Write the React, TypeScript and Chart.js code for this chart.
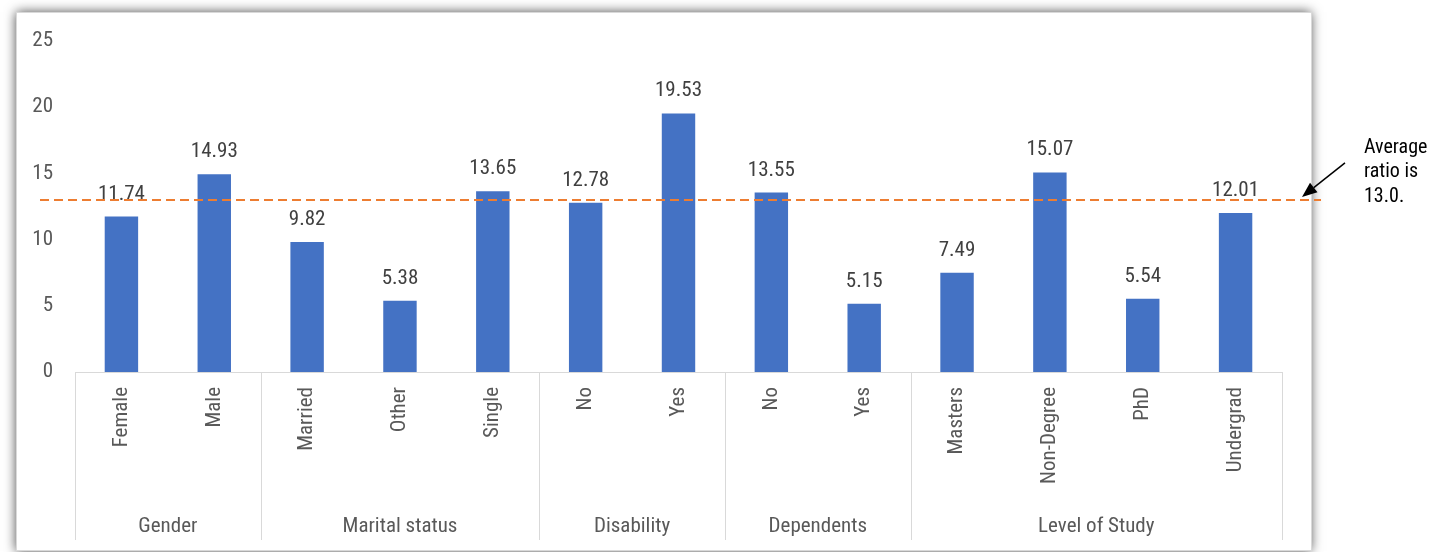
import React, { useEffect, useRef } from "react";
import { Chart, registerables } from "chart.js";

Chart.register(...registerables);

const categories = ["Female", "Male", "Married", "Other", "Single", "No", "Yes", "No", "Yes", "Masters", "Non-Degree", "PhD", "Undergrad"];
const values = [11.74, 14.93, 9.82, 5.38, 13.65, 12.78, 19.53, 13.55, 5.15, 7.49, 15.07, 5.54, 12.01];
const groupNames = ["Gender", "Marital status", "Disability", "Dependents", "Level of Study"];
const groupSizes = [2, 3, 2, 2, 4];
const yMax = 25;
const yStep = 5;
const averageRatio = 13.0;
const annotationLines = ["Average", "ratio is", "13.0."];

const FAMILY = '"Roboto Condensed", Roboto, "DejaVu Sans Condensed", sans-serif';
const STRETCH = "condensed";
const fontStr = (size: number) => `${STRETCH} ${size}px ${FAMILY}`;
const TEXT = "#595959";
const BAR = "#4472C4";
const LINE_GRAY = "#d9d9d9";
const ORANGE = "#ED7D31";

const decorPlugin = {
  id: "decor",
  beforeDraw(chart: any) {
    const ctx = chart.ctx;
    ctx.save();
    ctx.shadowColor = "rgba(0,0,0,0.7)";
    ctx.shadowBlur = 11;
    ctx.fillStyle = "#ffffff";
    ctx.fillRect(16, 12, 1295, 539);
    ctx.restore();
    ctx.save();
    ctx.strokeStyle = LINE_GRAY;
    ctx.lineWidth = 1;
    ctx.strokeRect(16.5, 12.5, 1295, 538);
    ctx.restore();
  },
  afterDatasetsDraw(chart: any) {
    const ctx = chart.ctx;
    const xs = chart.scales.x;
    const ys = chart.scales.y;
    const area = chart.chartArea;
    const meta = chart.getDatasetMeta(0);

    // data labels
    ctx.save();
    ctx.font = fontStr(21);
    ctx.fillStyle = "#404040";
    ctx.textAlign = "center";
    ctx.textBaseline = "alphabetic";
    meta.data.forEach((bar: any, i: number) => {
      ctx.fillText(values[i].toFixed(2), bar.x, bar.y - 17);
    });
    ctx.restore();

    // group dividers and labels
    const bottomY = area.bottom + 168;
    const boundaries: number[] = [area.left];
    let idx = 0;
    groupSizes.forEach((n, g) => {
      idx += n;
      if (g < groupSizes.length - 1) {
        boundaries.push((xs.getPixelForValue(idx - 1) + xs.getPixelForValue(idx)) / 2);
      } else {
        boundaries.push(area.right);
      }
    });
    ctx.save();
    ctx.strokeStyle = LINE_GRAY;
    ctx.lineWidth = 1;
    boundaries.forEach((bx) => {
      const px = Math.round(bx) + 0.5;
      ctx.beginPath();
      ctx.moveTo(px, area.bottom);
      ctx.lineTo(px, bottomY);
      ctx.stroke();
    });
    ctx.font = fontStr(21);
    ctx.fillStyle = TEXT;
    ctx.textAlign = "center";
    ctx.textBaseline = "alphabetic";
    groupNames.forEach((name, g) => {
      ctx.fillText(name, (boundaries[g] + boundaries[g + 1]) / 2, area.bottom + 160);
    });
    ctx.restore();

    // average line
    const ay = ys.getPixelForValue(averageRatio);
    ctx.save();
    ctx.strokeStyle = ORANGE;
    ctx.lineWidth = 2;
    ctx.setLineDash([9, 5]);
    ctx.beginPath();
    ctx.moveTo(area.left - 35, ay);
    ctx.lineTo(area.right + 39, ay);
    ctx.stroke();
    ctx.restore();

    // arrow
    const tipX = area.right + 20;
    const tipY = ay - 3;
    const tailX = area.right + 63;
    const tailY = ay - 37;
    const ang = Math.atan2(tipY - tailY, tipX - tailX);
    const headLen = 15;
    const headW = 6;
    const baseX = tipX - headLen * Math.cos(ang);
    const baseY = tipY - headLen * Math.sin(ang);
    ctx.save();
    ctx.strokeStyle = "#000000";
    ctx.fillStyle = "#000000";
    ctx.lineWidth = 1.5;
    ctx.beginPath();
    ctx.moveTo(tailX, tailY);
    ctx.lineTo(baseX, baseY);
    ctx.stroke();
    ctx.beginPath();
    ctx.moveTo(tipX, tipY);
    ctx.lineTo(baseX + headW * Math.sin(ang), baseY - headW * Math.cos(ang));
    ctx.lineTo(baseX - headW * Math.sin(ang), baseY + headW * Math.cos(ang));
    ctx.closePath();
    ctx.fill();
    ctx.restore();

    // annotation text
    ctx.save();
    ctx.font = fontStr(20);
    ctx.fillStyle = "#000000";
    ctx.textAlign = "left";
    ctx.textBaseline = "alphabetic";
    annotationLines.forEach((t, i) => {
      ctx.fillText(t, area.right + 82, ay - 47 + i * 24.5);
    });
    ctx.restore();
  },
};

export default function App() {
  const ref = useRef<HTMLCanvasElement | null>(null);
  useEffect(() => {
    if (!ref.current) return;
    const chart = new Chart(ref.current, {
      type: "bar",
      data: {
        labels: categories,
        datasets: [
          {
            data: values,
            backgroundColor: BAR,
            borderWidth: 0,
            barPercentage: 0.36,
            categoryPercentage: 1,
          },
        ],
      },
      options: {
        animation: false,
        responsive: false,
        devicePixelRatio: 1,
        layout: { padding: { left: 16, top: 41, right: 152, bottom: 0 } },
        plugins: { legend: { display: false }, tooltip: { enabled: false } },
        scales: {
          x: {
            grid: { display: false, drawTicks: false },
            border: { display: true, color: LINE_GRAY, width: 1 },
            ticks: {
              minRotation: 90,
              maxRotation: 90,
              autoSkip: false,
              padding: 15,
              color: TEXT,
              font: { family: FAMILY, size: 21, weight: STRETCH as any },
            },
            afterFit: (s: any) => {
              s.height = 180;
            },
          },
          y: {
            min: 0,
            max: yMax,
            grid: { display: false, drawTicks: false },
            border: { display: false },
            ticks: {
              stepSize: yStep,
              padding: 22,
              color: TEXT,
              font: { family: FAMILY, size: 21, weight: STRETCH as any },
            },
            afterFit: (s: any) => {
              s.width = 59;
            },
          },
        },
      },
      plugins: [decorPlugin],
    });
    return () => chart.destroy();
  }, []);
  return (
    <div style={{ position: "fixed", left: 0, top: 0, width: 1434, height: 552, background: "#fff" }}>
      <canvas ref={ref} width={1434} height={552} style={{ display: "block" }} />
    </div>
  );
}
